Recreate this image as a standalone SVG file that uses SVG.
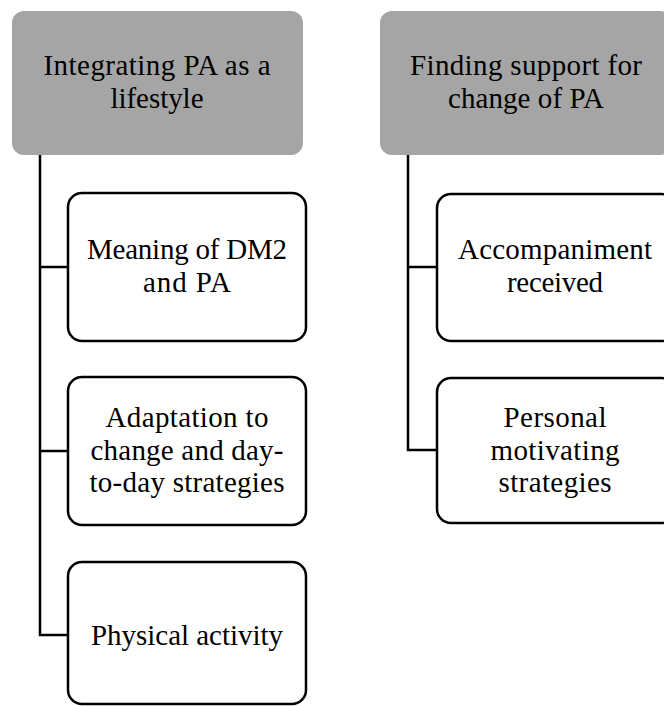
<svg xmlns="http://www.w3.org/2000/svg" width="664" height="706" viewBox="0 0 664 706">
<style>
.hdr{fill:#a5a5a5;stroke:none}
.box{fill:#ffffff;stroke:#000;stroke-width:2.5}
.con{fill:none;stroke:#000;stroke-width:2.5}
text{font-family:"Liberation Serif","Times New Roman",serif;font-size:29px;fill:#000;text-anchor:middle}
</style>
<rect width="664" height="706" fill="#fff"/>
<g id="connectors">
<path class="con" d="M40,155 V635 H68 M40,267 H68 M40,451 H68"/>
<path class="con" d="M408,155 V450 H437 M408,267 H437"/>
</g>
<g id="h1">
<rect class="hdr" x="12" y="11" width="291" height="144" rx="12"/>
<text x="157" y="75" textLength="227" lengthAdjust="spacing">Integrating PA as a</text>
<text x="157" y="108" textLength="93" lengthAdjust="spacing">lifestyle</text>
</g>
<g id="h2">
<rect class="hdr" x="380" y="11" width="292" height="144" rx="12"/>
<text x="526" y="75" textLength="232" lengthAdjust="spacing">Finding support for</text>
<text x="526" y="108" textLength="156" lengthAdjust="spacing">change of PA</text>
</g>
<g id="c1">
<rect class="box" x="68" y="193" width="238" height="148" rx="14"/>
<text x="187" y="259" textLength="200" lengthAdjust="spacing">Meaning of DM2</text>
<text x="187" y="292" textLength="88" lengthAdjust="spacing">and PA</text>
</g>
<g id="c2">
<rect class="box" x="68" y="377" width="238" height="148" rx="14"/>
<text x="187" y="427" textLength="163" lengthAdjust="spacing">Adaptation to</text>
<text x="187" y="460" textLength="193" lengthAdjust="spacing">change and day-</text>
<text x="187" y="492" textLength="195" lengthAdjust="spacing">to-day strategies</text>
</g>
<g id="c3">
<rect class="box" x="68" y="562" width="238" height="142" rx="14"/>
<text x="187" y="645" textLength="192" lengthAdjust="spacing">Physical activity</text>
</g>
<g id="c4">
<rect class="box" x="437" y="194" width="238" height="147" rx="14"/>
<text x="555" y="259" textLength="194" lengthAdjust="spacing">Accompaniment</text>
<text x="555" y="292" textLength="96" lengthAdjust="spacing">received</text>
</g>
<g id="c5">
<rect class="box" x="437" y="378" width="238" height="145" rx="14"/>
<text x="555" y="427" textLength="103" lengthAdjust="spacing">Personal</text>
<text x="555" y="460" textLength="129" lengthAdjust="spacing">motivating</text>
<text x="555" y="492" textLength="113" lengthAdjust="spacing">strategies</text>
</g>
</svg>
